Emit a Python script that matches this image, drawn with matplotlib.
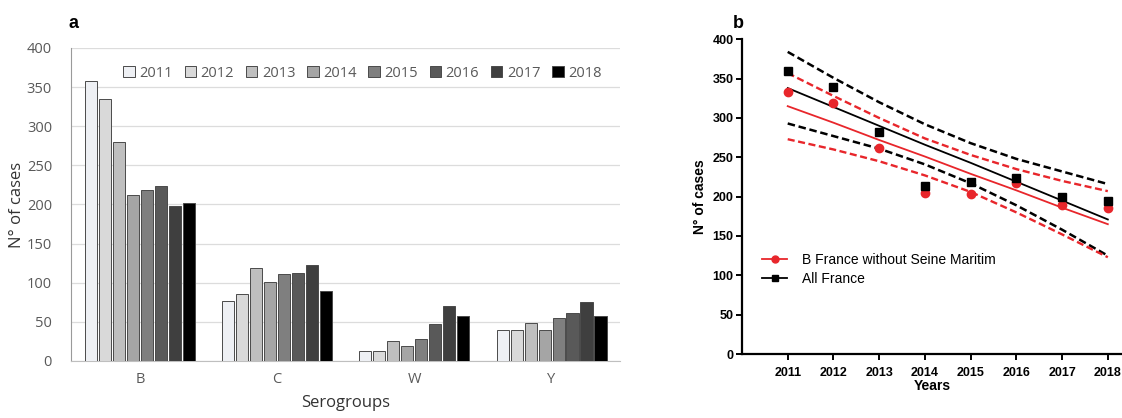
import numpy as np
import matplotlib.pyplot as plt
from matplotlib.lines import Line2D

# Panel a: cases per serogroup and year
serogroups = ['B', 'C', 'W', 'Y']
years = ['2011', '2012', '2013', '2014', '2015', '2016', '2017', '2018']
cases = {
    '2011': [358, 76, 13, 40],
    '2012': [335, 86, 13, 40],
    '2013': [280, 119, 25, 48],
    '2014': [212, 101, 19, 40],
    '2015': [219, 111, 28, 55],
    '2016': [224, 113, 47, 61],
    '2017': [198, 122, 70, 75],
    '2018': [202, 89, 57, 57],
}
bar_colors = ['#eef0f4', '#d9d9d9', '#bfbfbf', '#a5a5a5', '#7f7f7f', '#595959', '#3f3f3f', '#000000']

# Panel b: B cases, linear trend with 95% bands
yr = np.array([2011, 2012, 2013, 2014, 2015, 2016, 2017, 2018])
all_france = np.array([360, 339, 282, 214, 219, 224, 199, 195])
no_seine = np.array([333, 319, 262, 205, 204, 217, 190, 186])
fit_all = np.array([338, 314, 290, 266, 243, 219, 195, 171])
hi_all = np.array([384, 351, 320, 292, 268, 248, 232, 216])
lo_all = np.array([293, 277, 261, 241, 217, 189, 158, 125])
fit_ns = np.array([315, 294, 272, 251, 229, 208, 186, 165])
hi_ns = np.array([357, 328, 300, 274, 253, 235, 220, 207])
lo_ns = np.array([273, 260, 245, 227, 206, 180, 152, 123])

fig = plt.figure(figsize=(11.22, 4.18), dpi=100)

# ---- panel a
ax1 = fig.add_axes([0.0637, 0.1364, 0.489, 0.749])
grey = '#595959'
x = np.arange(len(serogroups))
slot = 0.102
for j, y in enumerate(years):
    ax1.bar(x + (j - 3.5) * slot, cases[y], width=0.088, color=bar_colors[j],
            edgecolor='#4a4a4a', linewidth=0.7, label=y, zorder=3)
ax1.set_xlim(-0.5, 3.5)
ax1.set_ylim(0, 400)
ax1.set_yticks(np.arange(0, 401, 50))
ax1.set_xticks(x)
ax1.set_xticklabels(serogroups)
ax1.grid(axis='y', color='#dcdcdc', linewidth=0.9, zorder=0)
for s in ['top', 'right']:
    ax1.spines[s].set_visible(False)
ax1.spines['left'].set_color('#9a9a9a')
ax1.spines['bottom'].set_color('#bfbfbf')
ax1.tick_params(axis='both', length=0, labelsize=10.5, labelcolor=grey, pad=8)
ax1.tick_params(axis='y', pad=14)
for t in ax1.get_xticklabels() + ax1.get_yticklabels():
    t.set_family('Open Sans')
ax1.set_xlabel('Serogroups', fontsize=12, color='#333333', family='Open Sans', labelpad=6)
ax1.set_ylabel('N° of cases', fontsize=12, color='#333333', family='Open Sans', labelpad=1)
ax1.legend(ncol=8, frameon=False, loc='upper right', bbox_to_anchor=(0.99, 0.985),
           handlelength=0.8, handleheight=0.8, handletextpad=0.3, columnspacing=0.8,
           prop={'family': 'Open Sans', 'size': 10.5}, labelcolor=grey)
fig.text(0.061, 0.965, 'a', fontsize=13, fontweight='bold', family='Liberation Sans', va='top')

# ---- panel b
ax2 = fig.add_axes([0.6613, 0.1531, 0.3387, 0.7529])
red = '#e8262b'
ax2.plot(yr, hi_all, color='black', lw=1.8, ls=(0, (3, 1.5)))
ax2.plot(yr, lo_all, color='black', lw=1.8, ls=(0, (3, 1.5)))
ax2.plot(yr, hi_ns, color=red, lw=1.7, ls=(0, (3, 1.5)))
ax2.plot(yr, lo_ns, color=red, lw=1.7, ls=(0, (3, 1.5)))
ax2.plot(yr, fit_all, color='black', lw=1.3)
ax2.plot(yr, fit_ns, color=red, lw=1.3)
ax2.plot(yr, all_france, 's', color='black', ms=6, zorder=5)
ax2.plot(yr, no_seine, 'o', color=red, ms=6, zorder=4)
ax2.set_xlim(2010.0, 2018.31)
ax2.set_ylim(0, 400)
ax2.set_yticks(np.arange(0, 401, 50))
ax2.set_xticks(yr)
for s in ['top', 'right']:
    ax2.spines[s].set_visible(False)
for s in ['left', 'bottom']:
    ax2.spines[s].set_linewidth(1.6)
ax2.tick_params(axis='both', width=1.4, length=4, labelsize=9, pad=2)
for t in ax2.get_xticklabels() + ax2.get_yticklabels():
    t.set_family('Liberation Sans')
    t.set_fontweight('bold')
ax2.tick_params(axis='x', pad=5)
ax2.set_xlabel('Years', fontsize=10, fontweight='bold', family='Liberation Sans', labelpad=0)
ax2.set_ylabel('N° of cases', fontsize=10, fontweight='bold', family='Liberation Sans', labelpad=4)
handles = [Line2D([], [], color=red, marker='o', ms=5, lw=1.3),
           Line2D([], [], color='black', marker='s', ms=5, lw=1.3)]
ax2.legend(handles, ['B France without Seine Maritim', 'All France'], frameon=False,
           loc='upper left', bbox_to_anchor=(0.02, 0.36), handlelength=1.8, handletextpad=1.1,
           labelspacing=0.35, prop={'family': 'Liberation Sans', 'size': 10})
fig.text(0.653, 0.965, 'b', fontsize=13, fontweight='bold', family='Liberation Sans', va='top')

fig.savefig('out.png', dpi=100)
